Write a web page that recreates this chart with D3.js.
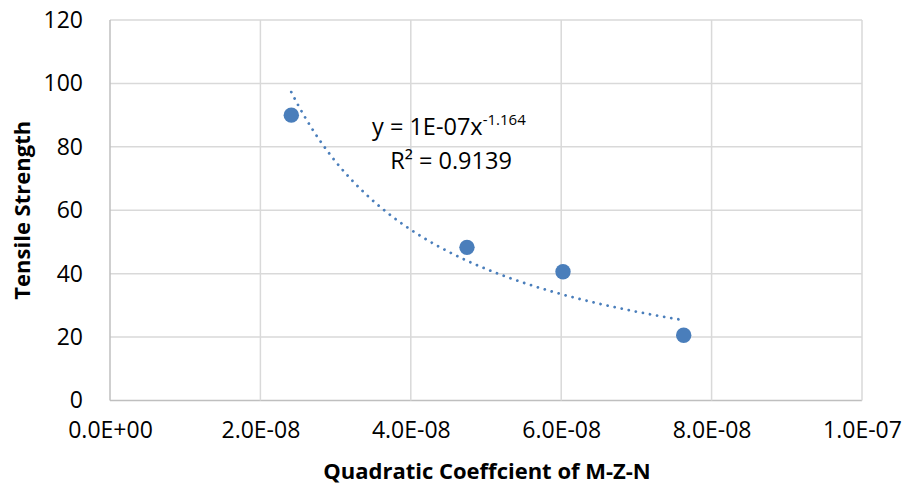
<!DOCTYPE html>
<html>
<head>
<meta charset="utf-8">
<script src="https://cdn.jsdelivr.net/npm/d3@7"></script>
<style>
  body { margin: 0; background: #fff; }
  text { font-family: "Open Sans", sans-serif; fill: #000; }
</style>
</head>
<body>
<div id="chart"></div>
<script>
// data
var xValues = [2.411e-8, 4.747e-8, 6.024e-8, 7.629e-8];
var yValues = [90, 48.3, 40.6, 20.56];
var xTicks = [0, 2e-8, 4e-8, 6e-8, 8e-8, 1e-7];
var yTicks = [0, 20, 40, 60, 80, 100, 120];
var eqText = "y = 1E-07x";
var eqPower = "-1.164";
var r2Text = "R² = 0.9139";

var W = 904, H = 488;
var margin = {top: 20, left: 110, right: 42, bottom: 87.5},
    width  = W - margin.left - margin.right,
    height = H - margin.top  - margin.bottom;

var svg = d3.select("#chart").append("svg")
    .attr("width", W).attr("height", H);

var g = svg.append("g").attr("transform", "translate(" + margin.left + "," + margin.top + ")");

var x = d3.scaleLinear().domain([0, 1e-7]).range([0, width]),
    y = d3.scaleLinear().domain([0, 120]).range([height, 0]);

// gridlines
g.selectAll(".hgrid").data(yTicks).enter()
  .append("line")
  .attr("x1", 0).attr("x2", width)
  .attr("y1", function(d){ return y(d); })
  .attr("y2", function(d){ return y(d); })
  .attr("stroke", function(d){ return d === 0 ? "#bfbfbf" : "#d9d9d9"; })
  .attr("stroke-width", 1.5);

g.selectAll(".vgrid").data(xTicks).enter()
  .append("line")
  .attr("y1", 0).attr("y2", height)
  .attr("x1", function(d){ return x(d); })
  .attr("x2", function(d){ return x(d); })
  .attr("stroke", function(d){ return d === 0 ? "#bfbfbf" : "#d9d9d9"; })
  .attr("stroke-width", 1.5);

// tick labels
var fmtX = function(d) {
  var s = d3.format(".1e")(d);           // e.g. 2.0e-8
  var parts = s.split("e");
  var exp = +parts[1];
  var sign = exp < 0 ? "-" : "+";
  return parts[0] + "E" + sign + d3.format("02d")(Math.abs(exp));
};

var yAxis = g.append("g")
  .call(d3.axisLeft(y).tickValues(yTicks).tickSize(0).tickPadding(27));
yAxis.select(".domain").remove();
yAxis.selectAll("text").attr("font-size", 23).style("font-family", "'Open Sans', sans-serif");

var xAxis = g.append("g")
  .attr("transform", "translate(0," + height + ")")
  .call(d3.axisBottom(x).tickValues(xTicks).tickSize(0).tickPadding(21).tickFormat(fmtX));
xAxis.select(".domain").remove();
xAxis.selectAll("text").attr("font-size", 23).style("font-family", "'Open Sans', sans-serif");

// power trendline, fitted from the points (least squares on logs)
var lx = xValues.map(Math.log), ly = yValues.map(Math.log);
var mx = d3.mean(lx), my = d3.mean(ly);
var b = d3.sum(lx, function(v, i){ return (v - mx) * (ly[i] - my); }) /
        d3.sum(lx, function(v){ return (v - mx) * (v - mx); });
var a = Math.exp(my - b * mx);
var x0 = d3.min(xValues), x1 = d3.max(xValues);
var trend = d3.range(0, 101).map(function(i){
  var xv = x0 + (x1 - x0) * i / 100;
  return [xv, a * Math.pow(xv, b)];
});

g.append("path")
  .datum(trend)
  .attr("fill", "none")
  .attr("stroke", "#4a7ebb")
  .attr("stroke-width", 2.8)
  .attr("stroke-linecap", "round")
  .attr("stroke-dasharray", "0.01 7.2")
  .attr("d", d3.line()
    .x(function(d){ return x(d[0]); })
    .y(function(d){ return y(d[1]); }));

// points
g.selectAll(".dot").data(xValues).enter()
  .append("circle")
  .attr("cx", function(d){ return x(d); })
  .attr("cy", function(d, i){ return y(yValues[i]); })
  .attr("r", 7.7)
  .attr("fill", "#4a7ebb");

// equation label
var eq = svg.append("text")
  .attr("x", 372).attr("y", 135)
  .attr("font-size", 23.5);
eq.append("tspan").text(eqText);
eq.append("tspan").attr("dy", -10).attr("font-size", 15).text(eqPower);

svg.append("text")
  .attr("x", 451).attr("y", 169)
  .attr("text-anchor", "middle")
  .attr("font-size", 23.5)
  .text(r2Text);

// axis titles
svg.append("text")
  .attr("transform", "translate(30," + (margin.top + height / 2) + ") rotate(-90)")
  .attr("text-anchor", "middle")
  .attr("font-size", 22)
  .attr("font-weight", "bold")
  .text("Tensile Strength");

svg.append("text")
  .attr("x", 487).attr("y", 479)
  .attr("text-anchor", "middle")
  .attr("font-size", 22)
  .attr("font-weight", "bold")
  .text("Quadratic Coeffcient of M-Z-N");
</script>
</body>
</html>
